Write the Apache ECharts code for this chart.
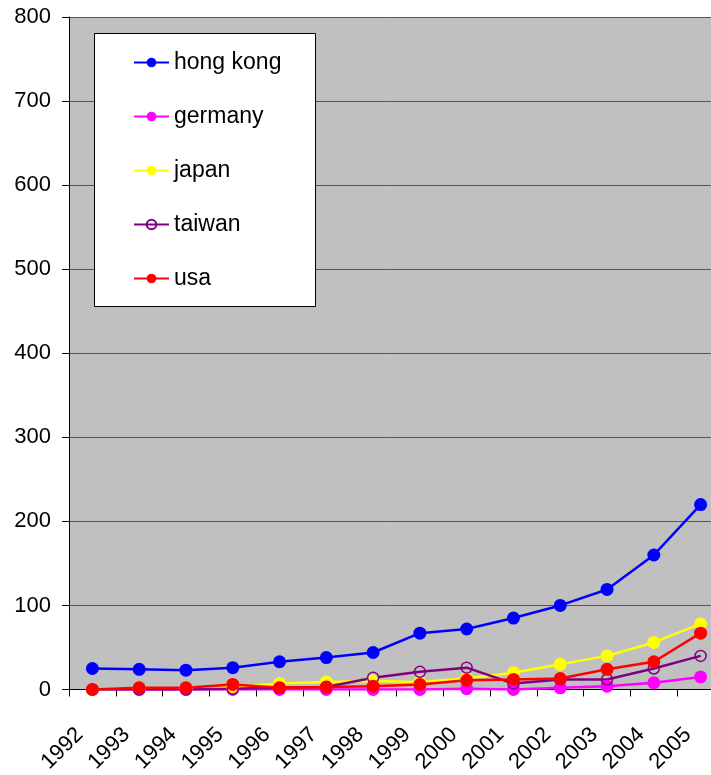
<!DOCTYPE html>
<html>
<head>
<meta charset="utf-8">
<script src="https://cdn.jsdelivr.net/npm/echarts@6/dist/echarts.min.js"></script>
<style>html,body{margin:0;padding:0;background:#fff;}#c{width:711px;height:775px;}</style>
</head>
<body>
<div id="c"></div>
<script>
var years = ['1992','1993','1994','1995','1996','1997','1998','1999','2000','2001','2002','2003','2004','2005'];
var hongKong = [25, 24, 23, 26, 33, 38, 44, 67, 72, 85, 100, 119, 160, 220];
var germany  = [0, 0, 0, 0, 0, 0, 0, 0, 1, 0, 2, 4, 8, 15];
var japan    = [0, 1, 1, 3, 7, 9, 10, 9, 13, 20, 30, 40, 56, 78];
var taiwan   = [0, 0, 0, 1, 2, 3, 14, 21, 26, 7, 12, 12, 25, 40];
var usa      = [0, 2, 2, 6, 2, 3, 4, 6, 11, 12, 13, 24, 33, 67];
var yTicks   = [0, 100, 200, 300, 400, 500, 600, 700, 800];

var FONT = 'Liberation Sans';
function mk(name, data, color, hollow) {
  return {
    name: name, type: 'line', data: data,
    symbol: 'circle', symbolSize: hollow ? 11 : 13,
    lineStyle: { color: color, width: 2.5 },
    itemStyle: hollow ? { color: 'rgba(0,0,0,0)', borderColor: color, borderWidth: 1.5 } : { color: color, borderWidth: 0 },
    emphasis: { disabled: true },
    animation: false
  };
}
var chart = echarts.init(document.getElementById('c'), null, { renderer: 'canvas' });
chart.setOption({
  backgroundColor: '#ffffff',
  animation: false,
  textStyle: { fontFamily: FONT },
  grid: { left: 69, width: 655, top: 17, height: 672.5, show: true, backgroundColor: '#c0c0c0', borderWidth: 0, containLabel: false, outerBoundsMode: 'none' },
  graphic: [{
    type: 'rect', left: 94, top: 33, z: 100,
    shape: { width: 221, height: 273 },
    style: { fill: '#ffffff', stroke: '#000000', lineWidth: 1 }
  }],
  legend: {
    orient: 'vertical', left: 128, top: 46, z: 101,
    itemGap: 31, itemWidth: 35, itemHeight: 12,
    textStyle: { fontFamily: FONT, fontSize: 23, color: '#000' },
    data: ['hong kong', 'germany', 'japan', 'taiwan', 'usa']
  },
  xAxis: {
    type: 'category', data: years, boundaryGap: true,
    axisLine: { lineStyle: { color: '#000', width: 1 } },
    axisTick: { show: true, length: 7, lineStyle: { color: '#000' }, alignWithLabel: false },
    axisLabel: { rotate: 45, margin: 29, padding: [0, 18, 0, 0], fontSize: 22, color: '#000', fontFamily: FONT, interval: 0, hideOverlap: false },
    splitLine: { show: false }
  },
  yAxis: {
    type: 'value', min: 0, max: 800, interval: 100,
    axisLine: { show: true, lineStyle: { color: '#000', width: 1 } },
    axisTick: { show: true, length: 7, lineStyle: { color: '#000' } },
    axisLabel: { margin: 18, fontSize: 22, color: '#000', fontFamily: FONT },
    splitLine: { show: true, lineStyle: { color: '#555555', width: 1 } }
  },
  series: [
    mk('hong kong', hongKong, '#0000ff'),
    mk('germany', germany, '#ff00ff'),
    mk('japan', japan, '#ffff00'),
    mk('taiwan', taiwan, '#800080', true),
    mk('usa', usa, '#ff0000')
  ]
});
</script>
</body>
</html>
